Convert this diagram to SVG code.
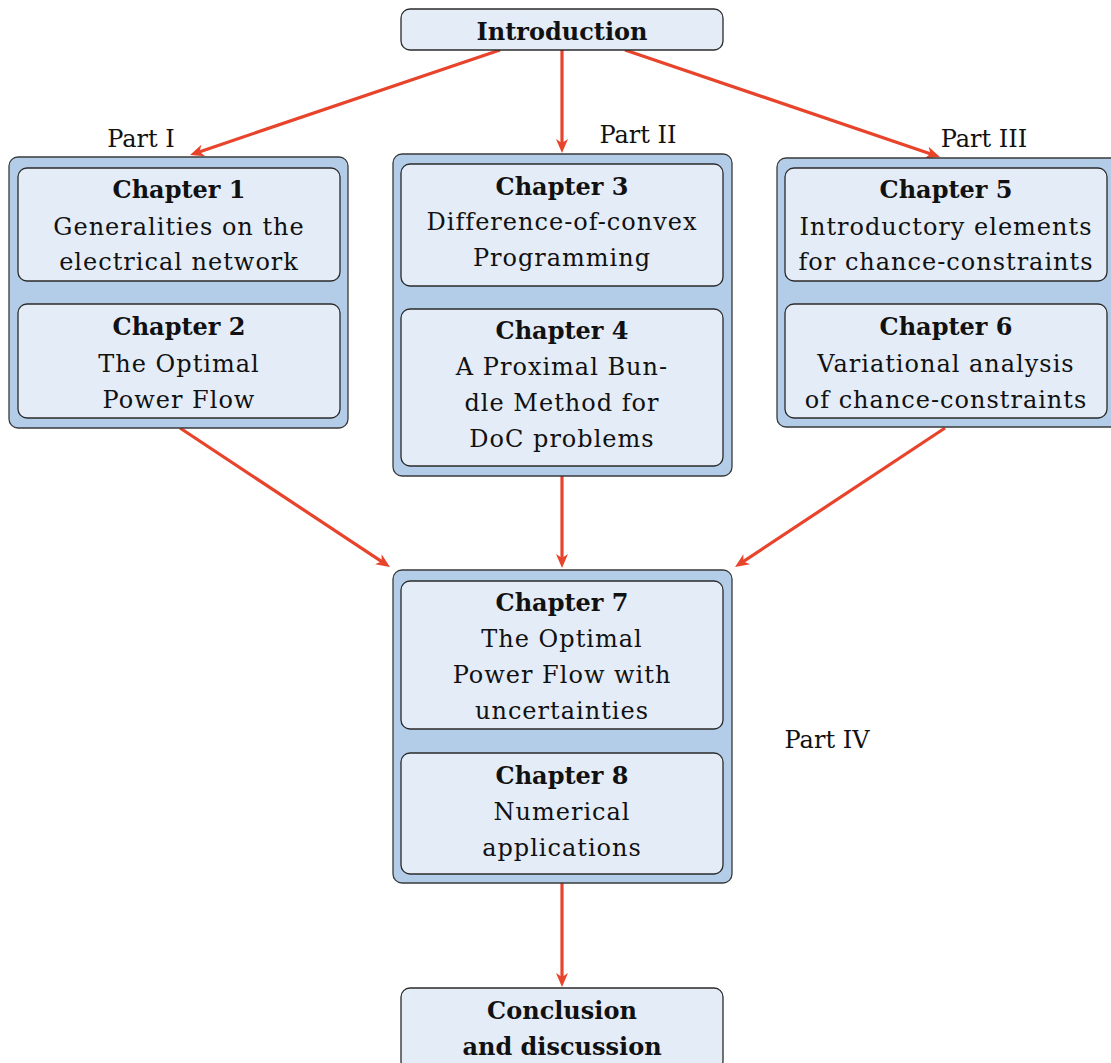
<svg xmlns="http://www.w3.org/2000/svg" width="1111" height="1063" viewBox="0 0 1111 1063">
<style>
.outer{fill:#b3cce8;stroke:#3a3a3a;stroke-width:1.3}
.inner{fill:#e4ecf7;stroke:#2a2a2a;stroke-width:1.3}
text{font-family:"DejaVu Serif","Liberation Serif",serif;font-size:24px;fill:#111;text-anchor:middle}
.b{font-weight:bold}
.r{letter-spacing:1px}
.conn line{stroke:#e8432b;stroke-width:3.2;marker-end:url(#ah)}
</style>
<defs>
<marker id="ah" markerUnits="userSpaceOnUse" markerWidth="16" markerHeight="14" refX="6" refY="7" orient="auto">
<path d="M0,1 L14,7 L0,13 L4,7 z" fill="#e8432b"/>
</marker>
</defs>
<g id="connectors" class="conn">
<line x1="500" y1="50" x2="197.6" y2="152.4"/>
<line x1="562" y1="50" x2="562" y2="145"/>
<line x1="625" y1="50" x2="932.4" y2="154.4"/>
<line x1="180" y1="428" x2="383.3" y2="562.6"/>
<line x1="562" y1="476" x2="562" y2="560"/>
<line x1="945" y1="428" x2="741.7" y2="562.6"/>
<line x1="562" y1="883" x2="562" y2="979"/>
</g>
<g id="introduction">
<rect class="inner" x="401" y="9" width="322" height="41" rx="9"/>
<text class="b" x="562" y="40">Introduction</text>
</g>
<g id="part1">
<rect class="outer" x="9" y="157" width="339" height="271" rx="9"/>
<text x="141" y="147">Part I</text>
</g>
<g id="chapter1">
<rect class="inner" x="18" y="168" width="322" height="113" rx="9"/>
<text class="b" x="179" y="198">Chapter 1</text>
<text class="r" x="179" y="235">Generalities on the</text>
<text class="r" x="179" y="270">electrical network</text>
</g>
<g id="chapter2">
<rect class="inner" x="18" y="304" width="322" height="114" rx="9"/>
<text class="b" x="179" y="335">Chapter 2</text>
<text class="r" x="179" y="372">The Optimal</text>
<text class="r" x="179" y="408">Power Flow</text>
</g>
<g id="part2">
<rect class="outer" x="393" y="154" width="339" height="322" rx="9"/>
<text x="638" y="143">Part II</text>
</g>
<g id="chapter3">
<rect class="inner" x="401" y="164" width="322" height="122" rx="9"/>
<text class="b" x="562" y="195">Chapter 3</text>
<text class="r" x="562" y="230">Difference-of-convex</text>
<text class="r" x="562" y="266">Programming</text>
</g>
<g id="chapter4">
<rect class="inner" x="401" y="309" width="322" height="157" rx="9"/>
<text class="b" x="562" y="339">Chapter 4</text>
<text class="r" x="562" y="375">A Proximal Bun-</text>
<text class="r" x="562" y="411">dle Method for</text>
<text class="r" x="562" y="447">DoC problems</text>
</g>
<g id="part3">
<rect class="outer" x="777" y="158" width="345" height="269" rx="9"/>
<text x="984" y="147">Part III</text>
</g>
<g id="chapter5">
<rect class="inner" x="785" y="168" width="322" height="113" rx="9"/>
<text class="b" x="946" y="198">Chapter 5</text>
<text class="r" x="946" y="235">Introductory elements</text>
<text class="r" x="946" y="270">for chance-constraints</text>
</g>
<g id="chapter6">
<rect class="inner" x="785" y="304" width="322" height="114" rx="9"/>
<text class="b" x="946" y="335">Chapter 6</text>
<text class="r" x="946" y="372">Variational analysis</text>
<text class="r" x="946" y="408">of chance-constraints</text>
</g>
<g id="part4">
<rect class="outer" x="393" y="570" width="339" height="313" rx="9"/>
<text x="827" y="748">Part IV</text>
</g>
<g id="chapter7">
<rect class="inner" x="401" y="581" width="322" height="148" rx="9"/>
<text class="b" x="562" y="611">Chapter 7</text>
<text class="r" x="562" y="647">The Optimal</text>
<text class="r" x="562" y="683">Power Flow with</text>
<text class="r" x="562" y="719">uncertainties</text>
</g>
<g id="chapter8">
<rect class="inner" x="401" y="753" width="322" height="121" rx="9"/>
<text class="b" x="562" y="784">Chapter 8</text>
<text class="r" x="562" y="820">Numerical</text>
<text class="r" x="562" y="856">applications</text>
</g>
<g id="conclusion">
<rect class="inner" x="401" y="988" width="322" height="82" rx="9"/>
<text class="b" x="562" y="1019">Conclusion</text>
<text class="b" x="562" y="1055">and discussion</text>
</g>
</svg>
